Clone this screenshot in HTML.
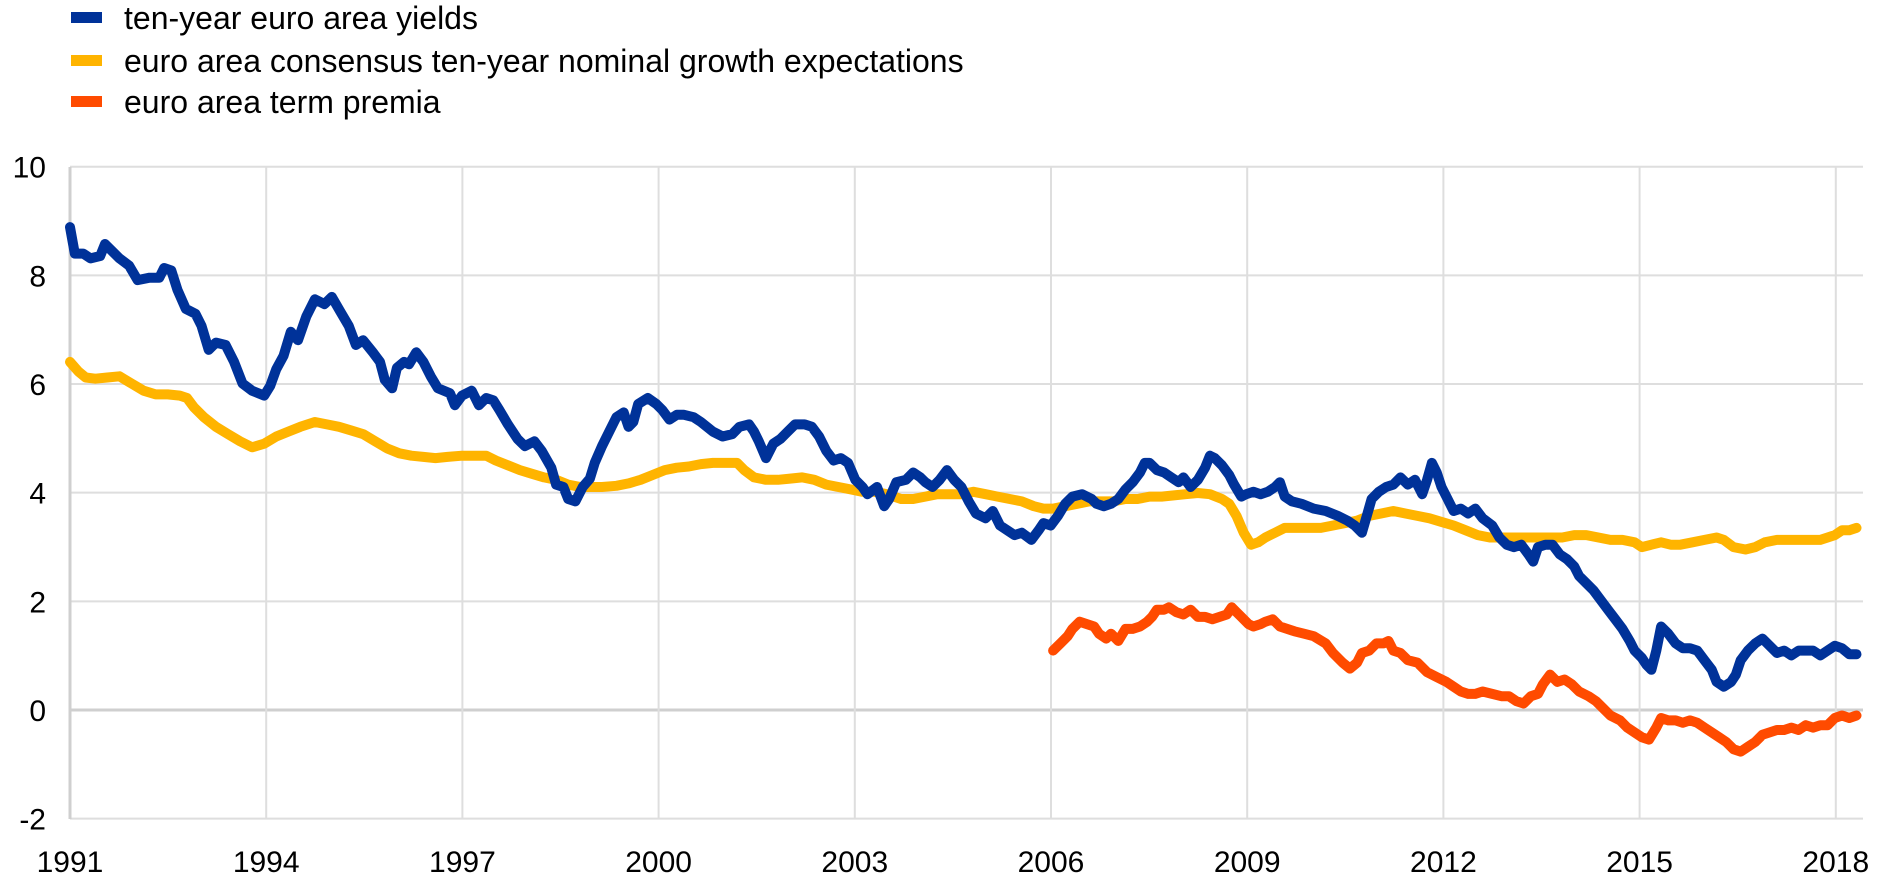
<!DOCTYPE html>
<html><head><meta charset="utf-8"><style>
html,body{margin:0;padding:0;background:#fff;}
svg{display:block;font-family:"Liberation Sans",Arial,sans-serif;}
</style></head><body>
<svg id="c" width="1890" height="888" viewBox="0 0 1890 888" xmlns="http://www.w3.org/2000/svg">
<rect width="1890" height="888" fill="#fff"/>
<g id="grid" stroke="#d9d9d9" stroke-width="2"></g>
<g id="labels" font-size="30" fill="#000"></g>
<rect x="71" y="12" width="31" height="11" fill="#003299"/>
<rect x="71" y="55" width="31" height="11" fill="#ffb400"/>
<rect x="71" y="96" width="31" height="11" fill="#ff4b00"/>
<text x="124" y="29" font-size="32">ten-year euro area yields</text>
<text x="124" y="72" font-size="32">euro area consensus ten-year nominal growth expectations</text>
<text x="124" y="113" font-size="32">euro area term premia</text>
<polyline id="y" fill="none" stroke="#ffb400" stroke-width="10" stroke-linejoin="round" stroke-linecap="round"/>
<polyline id="o" fill="none" stroke="#ff4b00" stroke-width="10" stroke-linejoin="round" stroke-linecap="round"/>
<polyline id="b" fill="none" stroke="#003299" stroke-width="10" stroke-linejoin="round" stroke-linecap="round"/>
</svg>
<script>
var NS="http://www.w3.org/2000/svg";
function el(p,t,a,txt){var e=document.createElementNS(NS,t);for(var k in a)e.setAttribute(k,a[k]);if(txt!==undefined)e.textContent=txt;p.appendChild(e);return e;}
var g=document.getElementById('grid'),L=document.getElementById('labels');
var X0=70,XR=1863,Y0=167,YB=819;
for(var v=10;v>=-2;v-=2){var y=710-54.33*v;el(g,'line',{x1:X0,x2:XR,y1:y,y2:y,stroke:v==0?'#cfcfcf':'#dedede','stroke-width':v==0?3:2});el(L,'text',{x:46,y:y+11,'text-anchor':'end'},String(v));}
for(var i=0;i<10;i++){var yr=1991+3*i;var x=70+65.4*3*i;el(g,'line',{x1:x,x2:x,y1:Y0,y2:YB,stroke:i==0?'#cfcfcf':'#dedede','stroke-width':i==0?3:2});el(L,'text',{x:x,y:872,'text-anchor':'middle'},String(yr));}
function tr(s){var a=s.trim().split(/\s+/),o=[];for(var j=0;j<a.length;j++){var p=a[j].split(',');var x=+p[0],y=+p[1];o.push((70+(x-59)*1766/1464).toFixed(1)+','+(167+(y-138)*652/542).toFixed(1));}return o.join(' ');}
var B="59,188 63,210 70,210 76,214 84,212 88,202 94,208 100,214 108,220 115,232 125,230 133,230 137,222 143,224 148,240 155,256 163,260 168,270 174,290 180,284 188,286 195,300 202,318 210,324 220,328 225,320 230,306 236,295 242,275 248,282 255,262 262,248 270,252 276,246 283,258 290,270 296,286 302,282 310,292 316,300 320,315 326,322 330,305 336,300 340,302 346,292 352,300 358,312 364,322 374,326 378,336 384,328 392,324 398,336 404,330 410,332 415,340 422,352 430,364 436,370 444,366 450,374 458,388 462,402 468,404 472,414 478,416 484,404 490,397 494,384 500,370 506,358 512,346 518,342 522,354 526,350 530,335 538,330 545,335 550,340 556,348 562,344 568,344 576,346 582,350 592,358 600,362 608,360 614,354 622,352 626,358 630,366 636,380 642,368 648,364 654,358 660,352 668,352 674,354 680,362 686,374 692,382 698,380 704,384 710,398 716,404 720,410 728,404 734,420 738,414 744,400 752,398 758,392 764,396 768,400 774,404 780,398 786,390 792,398 798,404 804,416 810,426 818,430 824,424 830,436 836,440 842,444 848,442 856,448 862,440 866,434 872,436 878,428 884,418 890,412 898,410 906,414 910,418 916,420 922,418 928,414 934,406 940,400 946,392 950,384 954,384 960,390 966,392 972,396 978,400 982,396 988,404 994,398 1000,388 1004,378 1008,380 1014,386 1020,394 1024,402 1030,412 1034,410 1040,408 1046,410 1052,408 1058,404 1062,400 1066,412 1072,416 1080,418 1090,422 1100,424 1110,428 1118,432 1124,436 1130,442 1134,428 1138,414 1144,408 1150,404 1156,402 1162,396 1168,402 1174,398 1180,410 1184,398 1188,384 1192,392 1196,404 1200,412 1206,424 1212,422 1218,426 1224,422 1230,430 1238,436 1244,446 1250,452 1256,454 1262,452 1268,460 1272,466 1276,454 1282,452 1288,452 1294,460 1300,464 1306,470 1310,478 1316,484 1322,490 1328,498 1334,506 1340,514 1346,522 1352,532 1356,540 1362,546 1366,552 1370,556 1374,540 1378,520 1384,526 1390,534 1396,538 1402,538 1408,540 1414,548 1420,556 1424,566 1430,570 1436,566 1440,560 1444,548 1450,540 1456,534 1462,530 1468,536 1474,542 1480,540 1486,544 1492,540 1498,540 1504,540 1510,544 1516,540 1522,536 1528,538 1534,543 1540,543";
var Yw="59,300 66,308 72,313 80,314 90,313 100,312 110,318 120,324 130,327 140,327 150,328 156,330 162,338 170,346 180,354 190,360 200,366 210,371 220,368 230,362 240,358 250,354 262,350 272,352 282,354 292,357 302,360 312,366 322,372 332,376 342,378 352,379 362,380 372,379 384,378 394,378 404,378 412,382 422,386 432,390 442,393 452,396 462,398 472,402 482,404 492,404 500,404 512,403 522,401 532,398 542,394 552,390 562,388 572,387 582,385 592,384 602,384 612,384 618,390 626,396 636,398 646,398 656,397 666,396 676,398 686,402 696,404 706,406 716,408 726,408 736,410 748,414 758,414 768,412 778,410 788,410 798,410 808,408 818,410 828,412 838,414 848,416 858,420 866,422 874,422 884,420 894,418 904,416 914,416 924,416 934,414 944,414 954,412 964,412 974,411 984,410 994,409 1004,410 1014,414 1020,418 1026,428 1032,442 1038,452 1044,450 1050,446 1058,442 1066,438 1076,438 1086,438 1096,438 1106,436 1116,434 1126,432 1136,428 1146,426 1156,424 1166,426 1176,428 1186,430 1196,433 1206,436 1216,440 1226,444 1236,446 1246,446 1256,446 1266,446 1276,446 1286,446 1296,446 1306,444 1316,444 1326,446 1336,448 1346,448 1356,450 1362,454 1370,452 1378,450 1386,452 1394,452 1404,450 1414,448 1424,446 1430,448 1438,454 1448,456 1456,454 1464,450 1474,448 1486,448 1496,448 1504,448 1510,448 1516,446 1522,444 1528,440 1534,440 1540,438";
var O="874,540 880,534 886,528 890,522 896,516 902,518 908,520 912,526 918,530 922,526 928,532 934,522 940,522 946,520 952,516 956,512 960,506 966,506 970,504 976,508 982,510 988,506 994,512 1000,512 1006,514 1012,512 1018,510 1022,504 1026,508 1030,512 1036,518 1040,520 1046,518 1050,516 1056,514 1062,520 1068,522 1074,524 1082,526 1090,528 1100,534 1106,542 1114,550 1120,555 1126,550 1130,542 1136,540 1142,534 1148,534 1152,532 1156,540 1162,542 1168,548 1176,550 1184,558 1192,562 1200,566 1206,570 1212,574 1218,576 1224,576 1230,574 1238,576 1246,578 1252,578 1258,582 1264,584 1270,578 1276,576 1280,568 1286,560 1292,566 1298,564 1304,568 1310,574 1318,578 1324,582 1330,588 1336,594 1344,598 1350,604 1356,608 1362,612 1368,614 1374,604 1378,596 1384,598 1390,598 1396,600 1402,598 1408,600 1414,604 1420,608 1426,612 1432,616 1438,622 1444,624 1450,620 1456,616 1462,610 1468,608 1474,606 1480,606 1486,604 1492,606 1498,602 1504,604 1510,602 1516,602 1522,596 1528,594 1534,596 1540,594";
document.getElementById('b').setAttribute('points',tr(B));
document.getElementById('y').setAttribute('points',tr(Yw));
document.getElementById('o').setAttribute('points',tr(O));
</script>
</body></html>
